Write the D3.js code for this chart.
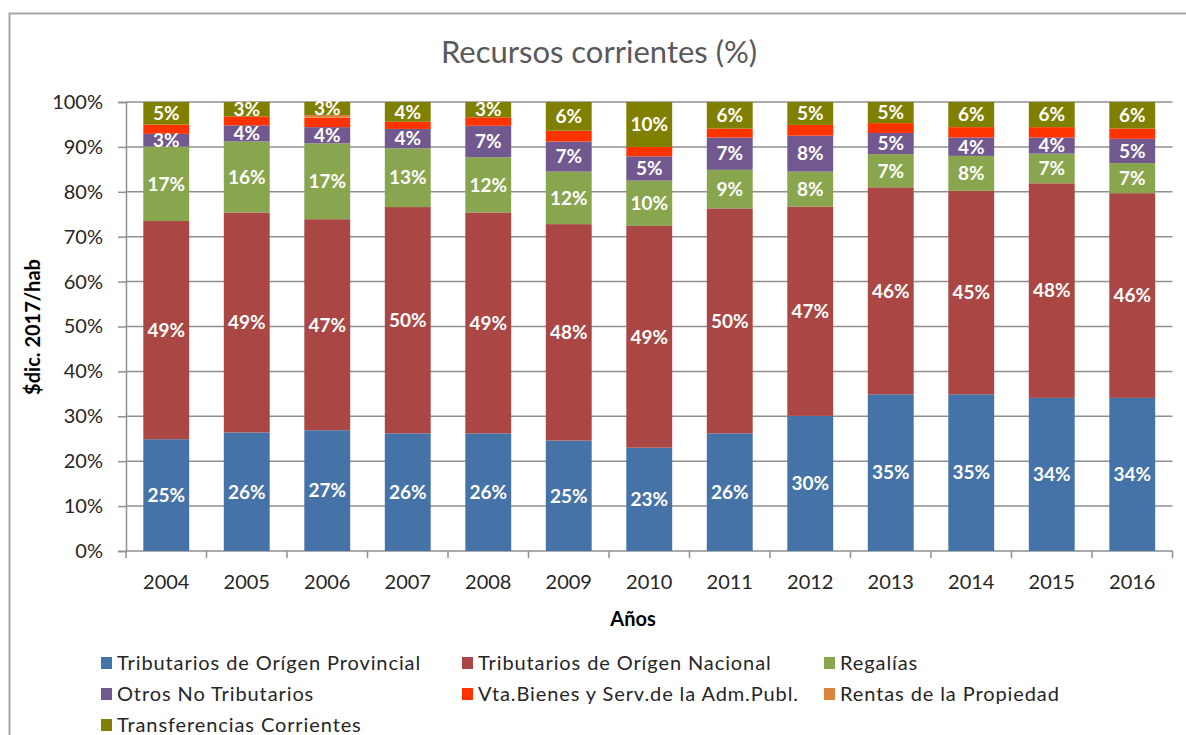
<!DOCTYPE html>
<html>
<head>
<meta charset="utf-8">
<script src="https://cdn.jsdelivr.net/npm/d3@7"></script>
<style>
  body { margin: 0; background: #fff; }
  svg { display: block; font-family: Lato, "Open Sans", sans-serif; }
</style>
</head>
<body>
<div id="chart"></div>
<script>
// ---- data (percent of recursos corrientes) ----
var years = ["2004", "2005", "2006", "2007", "2008", "2009", "2010", "2011", "2012", "2013", "2014", "2015", "2016"];
var provincial     = [24.9, 26.4, 26.9, 26.2, 26.2, 24.6, 23.0, 26.2, 30.1, 34.9, 34.9, 34.1, 34.1];
var nacional       = [48.6, 49.0, 47.0, 50.4, 49.2, 48.2, 49.4, 50.1, 46.6, 46.1, 45.3, 47.8, 45.6];
var regalias       = [16.6, 15.8, 16.9, 13.1, 12.3, 11.7, 10.1, 8.6, 7.8, 7.4, 7.8, 6.6, 6.7];
var otros          = [2.8, 3.6, 3.6, 4.3, 7.0, 6.7, 5.4, 7.2, 8.0, 4.7, 4.1, 3.6, 5.4];
var vta            = [2.1, 2.0, 2.1, 1.6, 1.9, 2.4, 2.1, 2.0, 2.4, 2.2, 2.3, 2.3, 2.3];
var rentas         = [0, 0, 0.6, 0, 0, 0, 0, 0, 0, 0, 0, 0, 0];
var transferencias = [5.0, 3.2, 2.9, 4.4, 3.4, 6.4, 10.0, 5.9, 5.1, 4.7, 5.6, 5.6, 5.9];

var seriesNames = ["Tributarios de Orígen Provincial", "Tributarios de Orígen Nacional", "Regalías",
  "Otros No Tributarios", "Vta.Bienes y Serv.de la Adm.Publ.", "Rentas de la Propiedad", "Transferencias Corrientes"];
var seriesValues = [provincial, nacional, regalias, otros, vta, rentas, transferencias];
var seriesColors = ["#4572A7", "#AA4643", "#89A54E", "#71588F", "#FF3300", "#DB843D", "#808000"];
var showLabel = [true, true, true, true, false, false, true];
var yTicks = [0, 10, 20, 30, 40, 50, 60, 70, 80, 90, 100];

var W = 1186, H = 735;
var pLeft = 126, pRight = 1172.5, pTop = 102, pBottom = 551;

var svg = d3.select("#chart").append("svg").attr("width", W).attr("height", H);

// frame of the chart object
svg.append("path").attr("d", "M9.5," + H + "V13.5H" + W)
  .attr("fill", "none").attr("stroke", "#a6a6a6").attr("stroke-width", 2);

// rows for stacking
var rows = years.map(function (yr, i) {
  var r = { year: yr };
  seriesNames.forEach(function (n, s) { r[n] = seriesValues[s][i]; });
  return r;
});
var stacked = d3.stack().keys(seriesNames)(rows);

var x = d3.scaleBand().domain(years).range([pLeft, pRight]).paddingInner(0.43).paddingOuter(0.215);
var y = d3.scaleLinear().domain([0, 100]).range([pBottom, pTop]);

// gridlines
svg.append("g").selectAll("line").data(yTicks).enter().append("line")
  .attr("x1", pLeft).attr("x2", pRight)
  .attr("y1", function (d) { return y(d); }).attr("y2", function (d) { return y(d); })
  .attr("stroke", "#8f8f8f").attr("stroke-width", 1.5);

// y axis
var yAxis = d3.axisLeft(y).tickValues(yTicks).tickSize(8).tickPadding(15)
  .tickFormat(function (d) { return d + "%"; });
var yg = svg.append("g").attr("transform", "translate(" + pLeft + ",0)").call(yAxis);
yg.select(".domain").attr("stroke", "#8f8f8f").attr("stroke-width", 1.5);
yg.selectAll(".tick line").attr("stroke", "#8f8f8f").attr("stroke-width", 1.5);
yg.selectAll(".tick text").attr("fill", "#262626").style("font-size", "20px")
  .style("font-family", "Lato, sans-serif");

// x axis: ticks between categories
var step = x.step();
var xb = d3.range(years.length + 1).map(function (i) { return pLeft + i * step; });
svg.append("g").selectAll("line").data(xb).enter().append("line")
  .attr("x1", function (d) { return d; }).attr("x2", function (d) { return d; })
  .attr("y1", pBottom).attr("y2", pBottom + 7)
  .attr("stroke", "#8f8f8f").attr("stroke-width", 1.5);
svg.append("g").selectAll("text").data(years).enter().append("text")
  .attr("x", function (d) { return x(d) + x.bandwidth() / 2; })
  .attr("y", 589)
  .attr("text-anchor", "middle").attr("fill", "#262626").style("font-size", "20px")
  .text(function (d) { return d; });

// bars
var layer = svg.append("g").selectAll("g").data(stacked).enter().append("g")
  .attr("fill", function (d, i) { return seriesColors[i]; });
layer.selectAll("rect").data(function (d) { return d; }).enter().append("rect")
  .attr("x", function (d) { return x(d.data.year); })
  .attr("width", x.bandwidth())
  .attr("y", function (d) { return y(d[1]); })
  .attr("height", function (d) { return y(d[0]) - y(d[1]); });

// data labels
stacked.forEach(function (s, i) {
  if (!showLabel[i]) return;
  svg.append("g").selectAll("text").data(s).enter().append("text")
    .attr("x", function (d) { return x(d.data.year) + x.bandwidth() / 2; })
    .attr("y", function (d) { return (y(d[0]) + y(d[1])) / 2; })
    .attr("dy", "0.36em")
    .attr("text-anchor", "middle").attr("fill", "#fff")
    .style("font-size", "19px").style("font-weight", "bold")
    .text(function (d) { return Math.round(d[1] - d[0]) + "%"; });
});

// title and axis titles
svg.append("text").attr("x", 599).attr("y", 63).attr("text-anchor", "middle")
  .attr("fill", "#595959").style("font-size", "31px").text("Recursos corrientes (%)");
svg.append("text").attr("transform", "translate(40,327) rotate(-90)").attr("text-anchor", "middle")
  .attr("fill", "#000").style("font-size", "20px").style("font-weight", "bold").text("$dic. 2017/hab");
svg.append("text").attr("x", 633).attr("y", 626).attr("text-anchor", "middle")
  .attr("fill", "#000").style("font-size", "20px").style("font-weight", "bold").text("Años");

// legend
var legX = [101, 462, 824], legY = [663, 694, 725];
var leg = svg.append("g").selectAll("g").data(seriesNames).enter().append("g")
  .attr("transform", function (d, i) { return "translate(" + legX[i % 3] + "," + legY[Math.floor(i / 3)] + ")"; });
leg.append("rect").attr("x", 0).attr("y", -6).attr("width", 11).attr("height", 12)
  .attr("fill", function (d, i) { return seriesColors[i]; });
leg.append("text").attr("x", 16).attr("dy", "0.36em").attr("fill", "#262626")
  .style("font-size", "20px").style("letter-spacing", "0.9px").text(function (d) { return d; });
</script>
</body>
</html>
